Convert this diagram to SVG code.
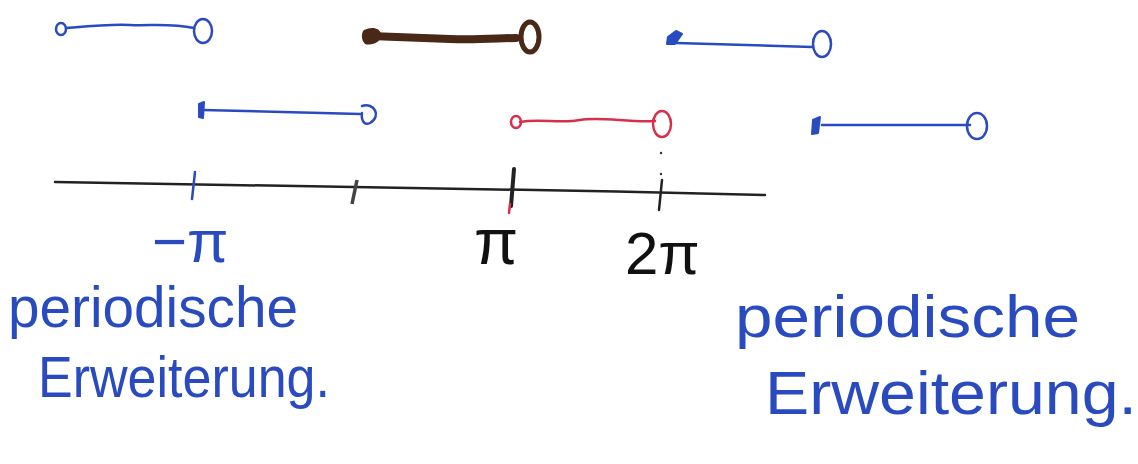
<svg xmlns="http://www.w3.org/2000/svg" width="1138" height="464" viewBox="0 0 1138 464">
<style>
.b{stroke:#2a4bc0;fill:none;stroke-width:2.5;stroke-linecap:round}
.bf{fill:#2a4bc0;stroke:#2a4bc0;stroke-width:2;stroke-linejoin:round}
.br{stroke:#4a2818;fill:none;stroke-linecap:round}
.r{stroke:#d8304c;fill:none;stroke-width:2.5;stroke-linecap:round}
.k{stroke:#222;fill:none;stroke-linecap:round}
.tb{font-family:"Liberation Sans",sans-serif;fill:#2a4bc0}
.tk{font-family:"Liberation Sans",sans-serif;fill:#111}
</style>
<rect width="1138" height="464" fill="#fff"/>
<g id="seg1">
<ellipse class="b" cx="61" cy="29" rx="5" ry="6"/>
<path class="b" d="M66 28 C90 26 110 24 130 25 S170 23 194 28"/>
<ellipse class="b" cx="203" cy="31" rx="9" ry="12"/>
</g>
<g id="seg2">
<path class="br" stroke-width="8" d="M370 36 C390 37 420 38 450 39 S500 38 516 38"/>
<path fill="#4a2818" d="M364 30 C372 26 380 28 381 34 C382 42 372 46 365 44 C361 40 361 33 364 30 Z"/>
<ellipse class="br" stroke-width="5" cx="530" cy="37" rx="9" ry="15"/>
</g>
<g id="seg3">
<path class="bf" d="M668 37 L676 31 L682 34 L675 44 L667 44 Z"/>
<path class="b" d="M676 43 L812 47"/>
<ellipse class="b" cx="822" cy="44" rx="9" ry="13"/>
</g>
<g id="seg4">
<path class="bf" d="M199 104 L204 102 L203 118 L199 117 Z"/>
<path class="b" d="M203 110 L360 114"/>
<path class="b" d="M362 106 C374 102 382 116 370 123 C364 126 361 120 362 113"/>
</g>
<g id="seg5">
<ellipse class="r" cx="516" cy="122" rx="5" ry="6"/>
<path class="r" d="M520 122 C540 118 560 124 580 120 S630 123 655 121"/>
<ellipse class="r" cx="662" cy="124" rx="9" ry="13"/>
</g>
<g id="seg6">
<path class="bf" d="M813 120 L820 117 L818 133 L812 134 Z"/>
<path class="b" d="M822 125 L970 125"/>
<ellipse class="b" cx="977" cy="126" rx="10" ry="13"/>
</g>
<g id="axis">
<path class="k" stroke-width="2.5" d="M55 182 C200 184 500 188 765 195"/>
<path class="b" stroke-width="4.5" d="M195 172 L192 199"/>
<path stroke="#444" stroke-width="3.5" fill="none" d="M357 180 L352 204"/>
<path class="k" stroke-width="4" d="M514 169 L511 206"/>
<path class="r" d="M510 204 L509 213"/>
<path class="k" stroke-width="2.5" d="M662 180 L659 210"/>
<circle cx="661" cy="153" r="1.2" fill="#333"/>
<circle cx="661" cy="174" r="1.2" fill="#333"/>
</g>
<g id="labels">
<text class="tb" x="152" y="262" font-size="60">−π</text>
<text class="tk" x="474" y="264" font-size="64">π</text>
<text class="tk" x="625" y="274" font-size="60">2π</text>
<text class="tb" x="8" y="327" font-size="58" textLength="290" lengthAdjust="spacingAndGlyphs">periodische</text>
<text class="tb" x="38" y="397" font-size="58" textLength="292" lengthAdjust="spacingAndGlyphs">Erweiterung.</text>
<text class="tb" x="735" y="337" font-size="60" textLength="345" lengthAdjust="spacingAndGlyphs">periodische</text>
<text class="tb" x="765" y="414" font-size="62" textLength="372" lengthAdjust="spacingAndGlyphs">Erweiterung.</text>
</g>
</svg>
